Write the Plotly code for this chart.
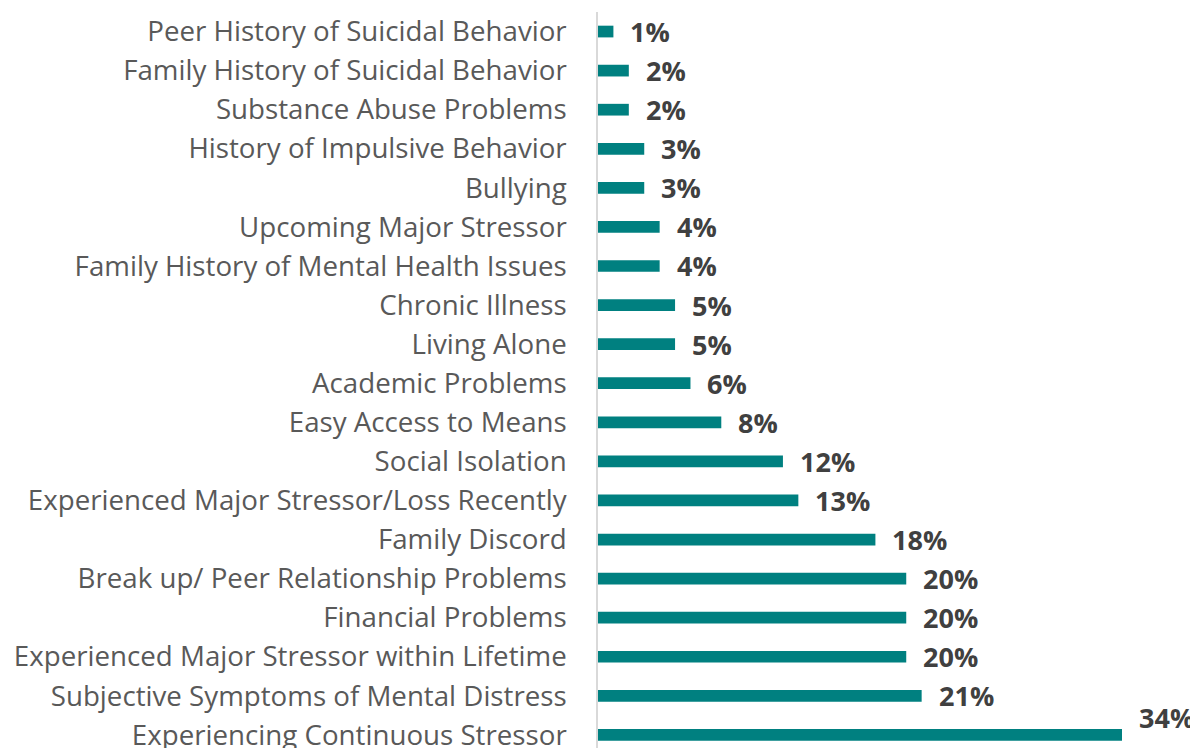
"""
Barras horizontales: factores de riesgo (porcentaje).
"""

import plotly.graph_objects as go

CATEGORIAS = [
    "Peer History of Suicidal Behavior",
    "Family History of Suicidal Behavior",
    "Substance Abuse Problems",
    "History of Impulsive Behavior",
    "Bullying",
    "Upcoming Major Stressor",
    "Family History of Mental Health Issues",
    "Chronic Illness",
    "Living Alone",
    "Academic Problems",
    "Easy Access to Means",
    "Social Isolation",
    "Experienced Major Stressor/Loss Recently",
    "Family Discord",
    "Break up/ Peer Relationship Problems",
    "Financial Problems",
    "Experienced Major Stressor within Lifetime",
    "Subjective Symptoms of Mental Distress",
    "Experiencing Continuous Stressor",
]
VALORES = [1, 2, 2, 3, 3, 4, 4, 5, 5, 6, 8, 12, 13, 18, 20, 20, 20, 21, 34]

COLOR_BARRA = "#008080"
COLOR_TEXTO = "#595959"
COLOR_VALOR = "#404040"
FUENTE = "Open Sans"

fig = go.Figure(
    go.Bar(
        x=VALORES,
        y=CATEGORIAS,
        orientation="h",
        width=0.3,
        marker_color=COLOR_BARRA,
        marker_line_width=0,
        hoverinfo="skip",
    )
)

# etiquetas de valor; la última va encima de la barra como en el original
for i, (cat, val) in enumerate(zip(CATEGORIAS, VALORES)):
    ultima = i == len(VALORES) - 1
    fig.add_annotation(
        x=val,
        y=cat,
        text=f"<b>{val}%</b>",
        showarrow=False,
        xanchor="left",
        xshift=15,
        yshift=17 if ultima else 0,
        font=dict(family=FUENTE, size=27, color=COLOR_VALOR),
    )

# la página añade 8px de margen al body, se compensa aquí
fig.update_layout(
    width=1198,
    height=748,
    margin=dict(l=590, r=84, t=3.5, b=0),
    paper_bgcolor="white",
    plot_bgcolor="white",
    showlegend=False,
    font=dict(family=FUENTE, color=COLOR_TEXTO),
    xaxis=dict(
        range=[0, 34],
        visible=False,
    ),
    yaxis=dict(
        type="category",
        range=[18.54, -0.5],
        automargin=False,
        showline=True,
        linecolor="#D9D9D9",
        linewidth=1.5,
        showgrid=False,
        ticks="",
        ticklabelstandoff=24,
        tickfont=dict(family=FUENTE, size=27.7, color=COLOR_TEXTO),
    ),
)

fig.write_html("out.html")
